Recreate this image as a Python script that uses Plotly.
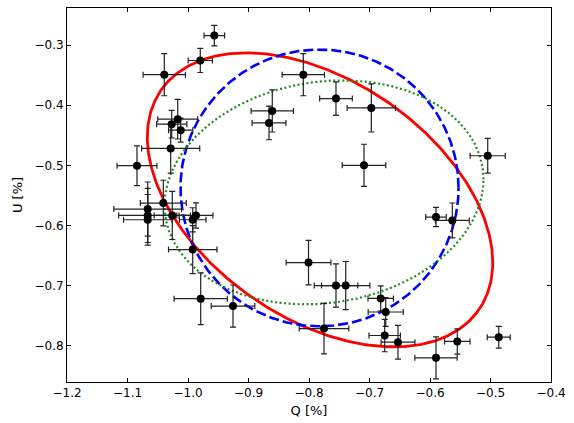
import numpy as np
import plotly.graph_objects as go

# Data points: Q [%], U [%] with errors
q = [-0.9565, -0.9797, -1.0392, -0.8094, -0.8607, -0.8661, -1.0170, -1.0269, -1.0121, -1.0286,
     -1.0843, -0.7554, -0.6970, -0.7091, -0.5046, -1.0666, -1.0666, -1.0666, -1.0408, -1.0260,
     -0.9868, -0.9922, -0.9922, -0.9790, -0.9256, -0.8008, -0.7554, -0.7393, -0.6815, -0.6732,
     -0.7752, -0.6749, -0.6529, -0.5901, -0.5549, -0.4864, -0.5901, -0.5631]
u = [-0.2843, -0.3257, -0.3493, -0.3493, -0.4096, -0.4295, -0.4233, -0.4316, -0.4416, -0.4719,
     -0.5007, -0.3891, -0.4046, -0.5000, -0.4841, -0.5728, -0.5834, -0.5906, -0.5629, -0.5834,
     -0.5834, -0.5906, -0.6402, -0.7219, -0.7341, -0.6618, -0.7000, -0.7000, -0.7214, -0.7440,
     -0.7715, -0.7831, -0.7942, -0.8202, -0.7930, -0.7859, -0.5861, -0.5917]
q_err = [0.017, 0.020, 0.035, 0.035, 0.035, 0.028, 0.033, 0.025, 0.020, 0.048,
         0.033, 0.027, 0.040, 0.036, 0.029, 0.056, 0.048, 0.040, 0.038, 0.030,
         0.028, 0.022, 0.040, 0.044, 0.036, 0.037, 0.036, 0.040, 0.021, 0.029,
         0.041, 0.026, 0.028, 0.035, 0.021, 0.019, 0.017, 0.028]
u_err = [0.017, 0.020, 0.035, 0.035, 0.035, 0.028, 0.033, 0.023, 0.020, 0.041,
         0.033, 0.028, 0.040, 0.035, 0.029, 0.045, 0.045, 0.042, 0.038, 0.040,
         0.021, 0.020, 0.040, 0.043, 0.035, 0.037, 0.036, 0.040, 0.021, 0.024,
         0.042, 0.027, 0.028, 0.035, 0.021, 0.018, 0.016, 0.029]

# Ellipse models: center Q, center U, half-extent in Q, half-extent in U, correlation
ell_names = ["red", "blue", "green"]
ell_qc = [-0.7818, -0.7826, -0.7752]
ell_uc = [-0.5575, -0.5376, -0.5450]
ell_sq = [0.2855, 0.2298, 0.2636]
ell_su = [0.2445, 0.2301, 0.1863]
ell_rho = [-0.4266, 0.0, 0.1155]
ell_color = ["#ff0000", "#0000ff", "#228b22"]
ell_dash = ["solid", "10px,4px", "2px,2.5px"]
ell_width = [2.8, 2.6, 2.2]

x_ticks = [-1.2, -1.1, -1.0, -0.9, -0.8, -0.7, -0.6, -0.5, -0.4]
y_ticks = [-0.8, -0.7, -0.6, -0.5, -0.4, -0.3]

fig = go.Figure()

t = np.linspace(0, 2 * np.pi, 600)
for i in range(len(ell_names)):
    xs = ell_qc[i] + ell_sq[i] * np.cos(t)
    ys = ell_uc[i] + ell_su[i] * (ell_rho[i] * np.cos(t) + np.sqrt(1 - ell_rho[i] ** 2) * np.sin(t))
    fig.add_trace(go.Scatter(x=xs, y=ys, mode="lines",
                             line=dict(color=ell_color[i], width=ell_width[i], dash=ell_dash[i]),
                             hoverinfo="skip", showlegend=False))

fig.add_trace(go.Scatter(
    x=q, y=u, mode="markers",
    marker=dict(color="black", size=8),
    error_x=dict(type="data", array=q_err, color="#222222", thickness=1.2, width=3),
    error_y=dict(type="data", array=u_err, color="#222222", thickness=1.2, width=3),
    showlegend=False))

axis_common = dict(
    showgrid=False, zeroline=False, showline=True, linecolor="black", linewidth=1,
    mirror="allticks", ticks="inside", ticklen=4, tickcolor="black", tickwidth=1,
    tickfont=dict(family="DejaVu Sans", size=12, color="black"),
    tickformat=".1f",
)

fig.update_layout(
    width=574, height=423,
    margin=dict(l=67, r=23, t=7, b=40),
    paper_bgcolor="white", plot_bgcolor="white",
    xaxis=dict(range=[-1.2, -0.4], tickvals=x_ticks,
               title=dict(text="Q [%]", font=dict(family="DejaVu Sans", size=13, color="black"), standoff=6),
               **axis_common),
    yaxis=dict(range=[-0.8604, -0.2384], tickvals=y_ticks,
               title=dict(text="U [%]", font=dict(family="DejaVu Sans", size=13, color="black"), standoff=8),
               **axis_common),
)

fig.write_html("out.html")
